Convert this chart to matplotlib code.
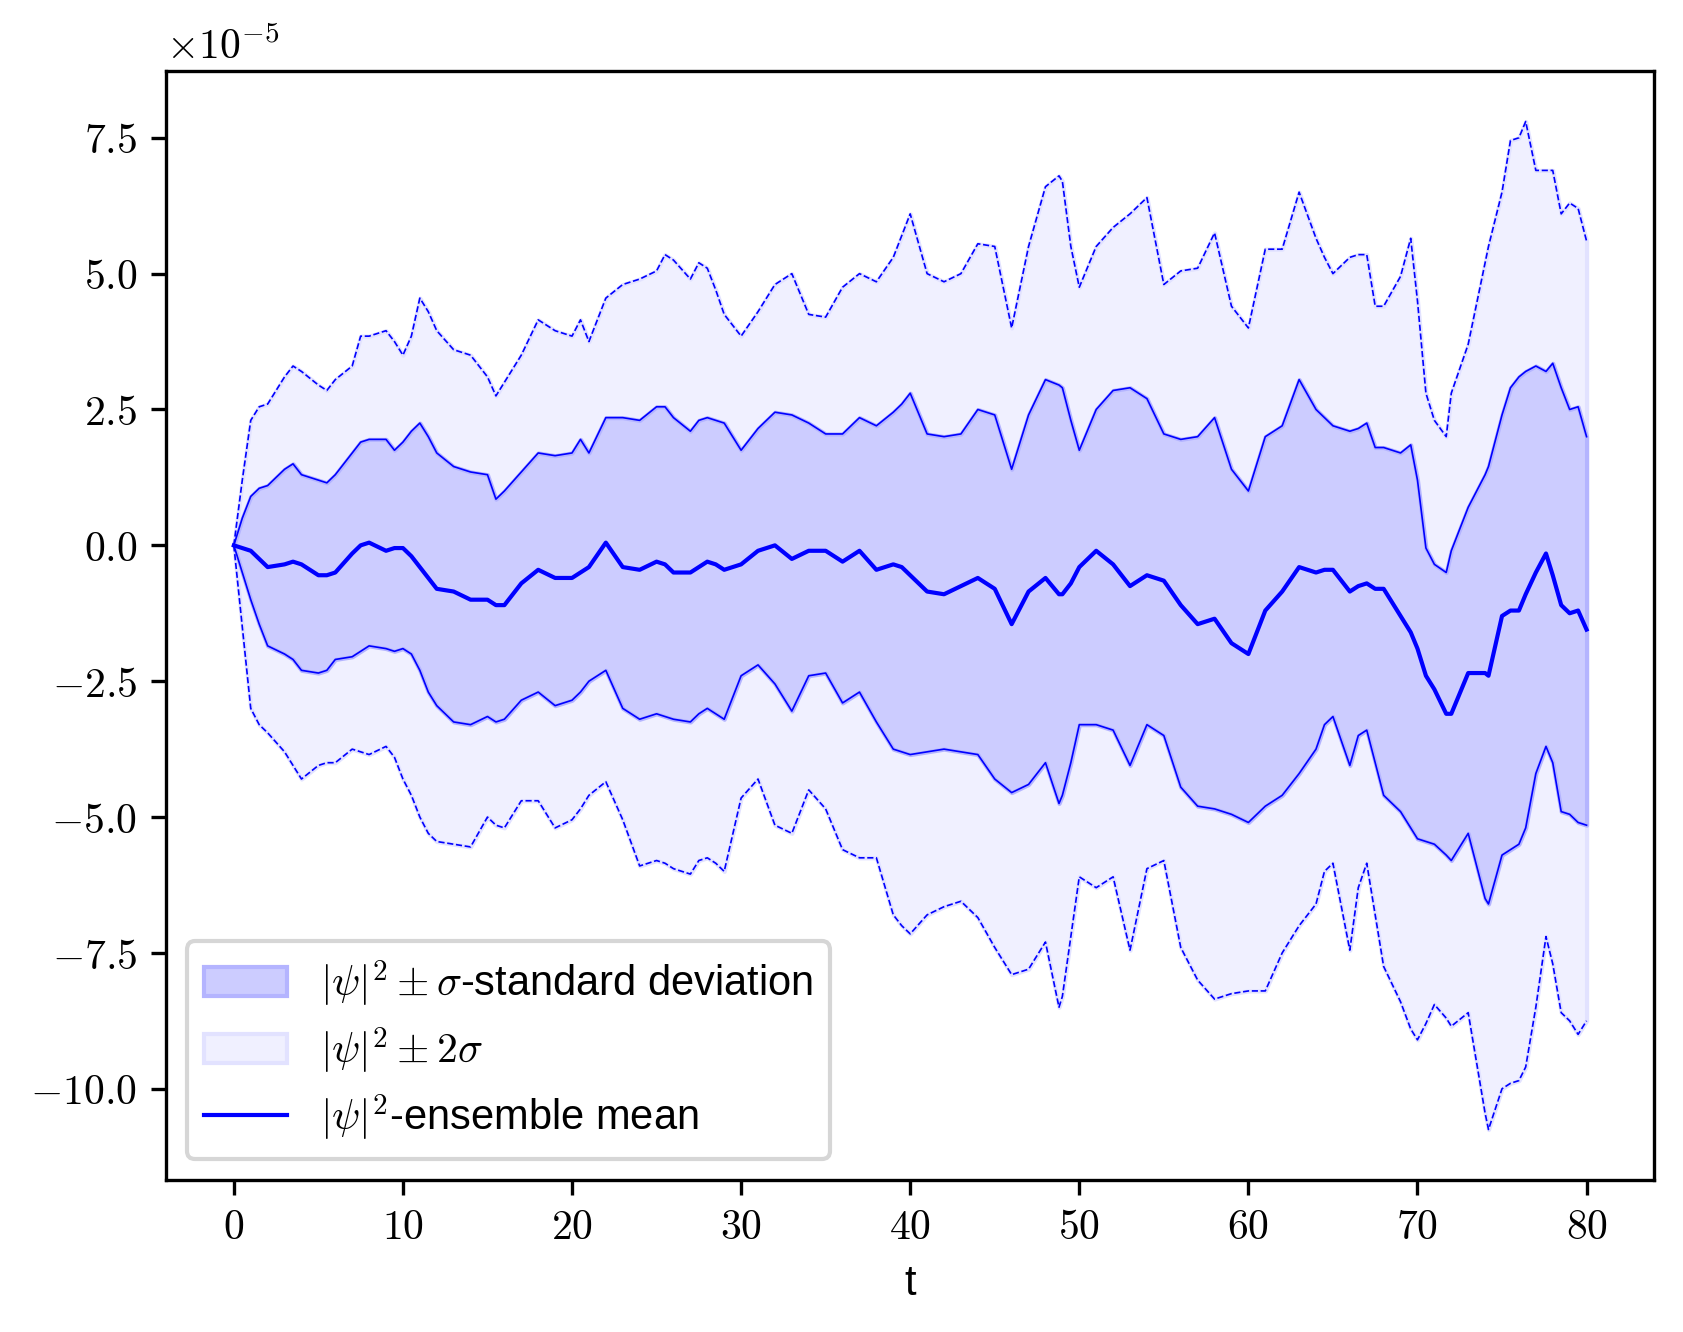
import numpy as np
import matplotlib
matplotlib.use("Agg")
import matplotlib.pyplot as plt

plt.rcParams['font.family'] = 'cmr10'
plt.rcParams['mathtext.fontset'] = 'cm'
plt.rcParams['axes.formatter.use_mathtext'] = True
plt.rcParams['axes.unicode_minus'] = True

# values, in units of 1e-5
t = [0, 0.5, 1, 1.5, 2, 3, 3.5, 4, 5, 5.5, 6,
     7, 7.5, 8, 9, 9.5, 10, 10.5, 11, 11.5, 12, 13, 14, 15, 15.5,
     16, 17, 18, 19, 20, 20.5, 21, 22, 23, 24, 25, 25.5, 26, 27, 27.5, 28, 28.5, 29,
     30, 31, 32, 33, 34, 35, 36, 37, 38, 39, 39.5, 40, 41, 42, 43, 44, 45, 46, 47,
     48, 48.8, 49, 49.5, 50, 51, 52, 53, 54, 55, 56, 57, 58, 59, 60,
     61, 62, 63, 64, 64.5, 65, 66, 66.5, 67, 67.5, 68, 69, 69.6,
     70, 70.5, 71, 71.7, 72, 73, 74, 74.2, 75, 75.5, 76, 76.4, 77, 77.6, 78, 78.5, 79, 79.5, 80]

mean = [0, -0.05, -0.1, -0.25, -0.4, -0.35, -0.3, -0.35, -0.55, -0.55, -0.5,
        -0.15, 0.0, 0.05, -0.1, -0.05, -0.05, -0.2, -0.4, -0.6, -0.8, -0.85, -1.0, -1.0, -1.1,
        -1.1, -0.7, -0.45, -0.6, -0.6, -0.5, -0.4, 0.05, -0.4, -0.45, -0.3, -0.35, -0.5, -0.5, -0.4, -0.3, -0.35, -0.45,
        -0.35, -0.1, 0.0, -0.25, -0.1, -0.1, -0.3, -0.1, -0.45, -0.35, -0.4, -0.55, -0.85, -0.9, -0.75, -0.6, -0.8, -1.45, -0.85,
        -0.6, -0.9, -0.9, -0.7, -0.4, -0.1, -0.35, -0.75, -0.55, -0.65, -1.1, -1.45, -1.35, -1.8, -2.0,
        -1.2, -0.85, -0.4, -0.5, -0.45, -0.45, -0.85, -0.75, -0.7, -0.8, -0.8, -1.3, -1.6,
        -1.9, -2.4, -2.65, -3.1, -3.1, -2.35, -2.35, -2.4, -1.3, -1.2, -1.2, -0.9, -0.5, -0.15, -0.55, -1.1, -1.25, -1.2, -1.55]

upper_1s = [0, 0.5, 0.9, 1.05, 1.1, 1.4, 1.5, 1.3, 1.2, 1.15, 1.3,
            1.7, 1.9, 1.95, 1.95, 1.75, 1.9, 2.1, 2.25, 2.0, 1.7, 1.45, 1.35, 1.3, 0.85,
            1.0, 1.35, 1.7, 1.65, 1.7, 1.95, 1.7, 2.35, 2.35, 2.3, 2.55, 2.55, 2.35, 2.1, 2.3, 2.35, 2.3, 2.25,
            1.75, 2.15, 2.45, 2.4, 2.25, 2.05, 2.05, 2.35, 2.2, 2.45, 2.6, 2.8, 2.05, 2.0, 2.05, 2.5, 2.4, 1.4, 2.4,
            3.05, 2.95, 2.9, 2.3, 1.75, 2.5, 2.85, 2.9, 2.7, 2.05, 1.95, 2.0, 2.35, 1.4, 1.0,
            2.0, 2.2, 3.05, 2.5, 2.35, 2.2, 2.1, 2.15, 2.25, 1.8, 1.8, 1.7, 1.85,
            1.2, -0.05, -0.35, -0.5, -0.1, 0.7, 1.3, 1.45, 2.4, 2.9, 3.1, 3.2, 3.3, 3.2, 3.35, 2.9, 2.5, 2.55, 2.0]

lower_1s = [0, -0.5, -1.0, -1.45, -1.85, -2.0, -2.1, -2.3, -2.35, -2.3, -2.1,
            -2.05, -1.95, -1.85, -1.9, -1.95, -1.9, -2.0, -2.3, -2.7, -2.95, -3.25, -3.3, -3.15, -3.25,
            -3.2, -2.85, -2.7, -2.95, -2.85, -2.7, -2.5, -2.3, -3.0, -3.2, -3.1, -3.15, -3.2, -3.25, -3.1, -3.0, -3.1, -3.2,
            -2.4, -2.2, -2.55, -3.05, -2.4, -2.35, -2.9, -2.7, -3.25, -3.75, -3.8, -3.85, -3.8, -3.75, -3.8, -3.85, -4.3, -4.55, -4.4,
            -4.0, -4.75, -4.6, -4.0, -3.3, -3.3, -3.4, -4.05, -3.3, -3.5, -4.45, -4.8, -4.85, -4.95, -5.1,
            -4.8, -4.6, -4.2, -3.75, -3.3, -3.15, -4.05, -3.5, -3.4, -4.0, -4.6, -4.9, -5.2,
            -5.4, -5.45, -5.5, -5.7, -5.8, -5.3, -6.5, -6.6, -5.7, -5.6, -5.5, -5.2, -4.2, -3.7, -4.0, -4.9, -4.95, -5.1, -5.15]

upper_2s = [0, 1.2, 2.3, 2.55, 2.6, 3.1, 3.3, 3.2, 2.95, 2.85, 3.05,
            3.3, 3.85, 3.85, 3.95, 3.75, 3.5, 3.85, 4.55, 4.3, 3.95, 3.6, 3.5, 3.1, 2.75,
            3.0, 3.5, 4.15, 3.95, 3.85, 4.15, 3.75, 4.55, 4.8, 4.9, 5.05, 5.35, 5.25, 4.9, 5.2, 5.1, 4.7, 4.25,
            3.85, 4.3, 4.8, 5.0, 4.25, 4.2, 4.75, 5.0, 4.85, 5.3, 5.7, 6.1, 5.0, 4.85, 5.0, 5.55, 5.5, 4.0, 5.5,
            6.6, 6.8, 6.7, 5.5, 4.75, 5.5, 5.85, 6.1, 6.4, 4.8, 5.05, 5.1, 5.75, 4.4, 4.0,
            5.45, 5.45, 6.5, 5.65, 5.3, 5.0, 5.3, 5.35, 5.35, 4.4, 4.4, 4.95, 5.65,
            4.5, 2.8, 2.3, 2.0, 2.8, 3.7, 5.2, 5.5, 6.5, 7.45, 7.5, 7.8, 6.9, 6.9, 6.9, 6.1, 6.3, 6.2, 5.6]

lower_2s = [0, -1.5, -3.0, -3.3, -3.45, -3.8, -4.05, -4.3, -4.05, -4.0, -4.0,
            -3.75, -3.8, -3.85, -3.7, -3.9, -4.3, -4.6, -5.0, -5.3, -5.45, -5.5, -5.55, -5.0, -5.15,
            -5.2, -4.7, -4.7, -5.2, -5.05, -4.85, -4.6, -4.35, -5.05, -5.9, -5.8, -5.85, -5.95, -6.05, -5.8, -5.75, -5.85, -6.0,
            -4.65, -4.3, -5.15, -5.3, -4.5, -4.85, -5.6, -5.75, -5.75, -6.8, -7.0, -7.15, -6.8, -6.65, -6.55, -6.85, -7.4, -7.9, -7.8,
            -7.3, -8.5, -8.3, -7.2, -6.1, -6.3, -6.1, -7.45, -5.95, -5.8, -7.4, -8.0, -8.35, -8.25, -8.2,
            -8.2, -7.5, -7.0, -6.6, -6.0, -5.85, -7.45, -6.3, -5.85, -6.8, -7.75, -8.4, -8.9,
            -9.1, -8.8, -8.45, -8.7, -8.85, -8.6, -10.45, -10.75, -10.0, -9.9, -9.85, -9.6, -8.5, -7.2, -7.7, -8.6, -8.75, -9.0, -8.75]

scale = 1e-5
t = np.array(t)
mean = np.array(mean) * scale
upper_1s = np.array(upper_1s) * scale
lower_1s = np.array(lower_1s) * scale
upper_2s = np.array(upper_2s) * scale
lower_2s = np.array(lower_2s) * scale

fig = plt.figure(figsize=(5.61, 4.443), dpi=300)
ax = fig.add_axes([0.554 / 5.61, 0.507 / 4.443, 4.96 / 5.61, 3.696 / 4.443])

f2 = ax.fill_between(t, lower_2s, upper_2s, facecolor='#f0f0ff', edgecolor='#e2e2ff', linewidth=1)
f1 = ax.fill_between(t, lower_1s, upper_1s, facecolor='#ccccff', edgecolor='#b4b4ff', linewidth=1)
ax.plot(t, upper_2s, color='blue', linestyle='--', lw=0.4)
ax.plot(t, lower_2s, color='blue', linestyle='--', lw=0.4)
ax.plot(t, upper_1s, color='blue', lw=0.4)
ax.plot(t, lower_1s, color='blue', lw=0.4)
ln, = ax.plot(t, mean, color='blue', lw=1.0)

ax.ticklabel_format(axis='y', style='sci', scilimits=(-5, -5), useMathText=True)
ax.set_xlabel('t', fontfamily='Liberation Sans', fontsize=10)
ax.legend([f1, f2, ln],
          [r'$|\psi|^2 \pm \sigma$-standard deviation', r'$|\psi|^2 \pm 2\sigma$', r'$|\psi|^2$-ensemble mean'],
          loc='lower left', labelspacing=0.4, prop={'family': 'Liberation Sans', 'size': 10})

fig.savefig('out.png', dpi=300)
